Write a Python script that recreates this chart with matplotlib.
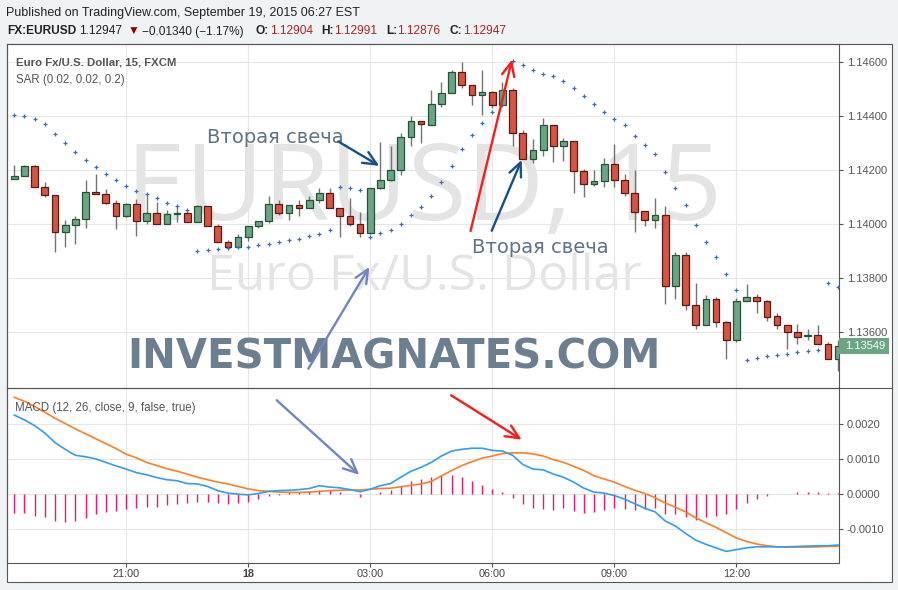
import matplotlib
matplotlib.use("Agg")
import matplotlib.pyplot as plt
from matplotlib.patches import Rectangle
from matplotlib.lines import Line2D

W, H = 898, 590

# EURUSD 15 min candles, 18:15 .. 14:30
opens = [1.14166, 1.14176, 1.14215, 1.14136, 1.14107, 1.13970, 1.13996, 1.14018, 1.14118, 1.14110,
         1.14077, 1.14029, 1.14073, 1.14011, 1.14040, 1.14000, 1.14036, 1.14040, 1.14008, 1.14066,
         1.13992, 1.13933, 1.13917, 1.13951, 1.13992, 1.14012, 1.14073, 1.14040, 1.14071, 1.14059,
         1.14087, 1.14116, 1.14059, 1.14030, 1.14001, 1.13966, 1.14133, 1.14163, 1.14200, 1.14321,
         1.14382, 1.14367, 1.14445, 1.14484, 1.14562, 1.14515, 1.14477, 1.14488, 1.14440, 1.14495,
         1.14336, 1.14240, 1.14274, 1.14366, 1.14289, 1.14307, 1.14197, 1.14147, 1.14159, 1.14223,
         1.14163, 1.14114, 1.14048, 1.14015, 1.14033, 1.13771, 1.13885, 1.13700, 1.13626, 1.13722,
         1.13637, 1.13571, 1.13716, 1.13729, 1.13716, 1.13660, 1.13626, 1.13600, 1.13586, 1.13592,
         1.13558, 1.13503]
highs = [1.14219, 1.14219, 1.14219, 1.14156, 1.14107, 1.14015, 1.14028, 1.14162, 1.14186, 1.14129,
         1.14088, 1.14077, 1.14092, 1.14108, 1.14083, 1.14051, 1.14070, 1.14050, 1.14071, 1.14066,
         1.14000, 1.13941, 1.13964, 1.13992, 1.14012, 1.14104, 1.14087, 1.14070, 1.14089, 1.14102,
         1.14133, 1.14133, 1.14059, 1.14096, 1.14044, 1.14133, 1.14303, 1.14287, 1.14336, 1.14398,
         1.14382, 1.14496, 1.14526, 1.14570, 1.14599, 1.14515, 1.14567, 1.14492, 1.14525, 1.14503,
         1.14348, 1.14315, 1.14392, 1.14366, 1.14317, 1.14307, 1.14203, 1.14200, 1.14244, 1.14297,
         1.14184, 1.14200, 1.14048, 1.14096, 1.14067, 1.13898, 1.13898, 1.13783, 1.13738, 1.13729,
         1.13643, 1.13726, 1.13779, 1.13741, 1.13719, 1.13670, 1.13626, 1.13630, 1.13614, 1.13626,
         1.13564, 1.13571]
lows = [1.14165, 1.14176, 1.14136, 1.14099, 1.13898, 1.13917, 1.13925, 1.13987, 1.14110, 1.14073,
        1.13980, 1.14025, 1.13954, 1.14000, 1.13999, 1.14000, 1.14009, 1.14008, 1.14008, 1.13992,
        1.13933, 1.13917, 1.13917, 1.13938, 1.13985, 1.14005, 1.14034, 1.14015, 1.14030, 1.14059,
        1.14077, 1.14059, 1.13951, 1.13991, 1.13951, 1.13964, 1.14130, 1.14160, 1.14182, 1.14289,
        1.14301, 1.14367, 1.14432, 1.14484, 1.14503, 1.14440, 1.14403, 1.14427, 1.14440, 1.14289,
        1.14240, 1.14227, 1.14250, 1.14230, 1.14231, 1.14116, 1.14098, 1.14139, 1.14136, 1.14136,
        1.14104, 1.13970, 1.13994, 1.13985, 1.13703, 1.13723, 1.13682, 1.13611, 1.13626, 1.13621,
        1.13500, 1.13563, 1.13716, 1.13670, 1.13641, 1.13611, 1.13540, 1.13558, 1.13571, 1.13558,
        1.13500, 1.13459]
closes = [1.14178, 1.14215, 1.14136, 1.14107, 1.13970, 1.13996, 1.14018, 1.14118, 1.14110, 1.14077,
          1.14029, 1.14073, 1.14011, 1.14040, 1.14000, 1.14038, 1.14041, 1.14008, 1.14066, 1.13992,
          1.13933, 1.13917, 1.13951, 1.13992, 1.14012, 1.14073, 1.14040, 1.14070, 1.14059, 1.14089,
          1.14116, 1.14059, 1.14028, 1.14000, 1.13966, 1.14133, 1.14163, 1.14200, 1.14321, 1.14382,
          1.14371, 1.14445, 1.14484, 1.14562, 1.14514, 1.14477, 1.14488, 1.14440, 1.14495, 1.14336,
          1.14240, 1.14274, 1.14366, 1.14287, 1.14307, 1.14197, 1.14147, 1.14159, 1.14223, 1.14163,
          1.14114, 1.14046, 1.14015, 1.14033, 1.13771, 1.13885, 1.13700, 1.13626, 1.13722, 1.13638,
          1.13571, 1.13716, 1.13729, 1.13716, 1.13657, 1.13627, 1.13600, 1.13583, 1.13592, 1.13558,
          1.13503, 1.13549]

# parabolic SAR (0.02, 0.02, 0.2)
sar = [1.14403, 1.14399, 1.14388, 1.14369, 1.14332, 1.14299, 1.14266, 1.14236, 1.14210, 1.14184,
       1.14162, 1.14140, 1.14121, 1.14110, 1.14095, 1.14077, 1.14066, 1.14053, 1.13899, 1.13903,
       1.13907, 1.13911, 1.13915, 1.13917, 1.13921, 1.13927, 1.13933, 1.13940, 1.13945, 1.13954,
       1.13963, 1.13977, 1.14136, 1.14132, 1.14126, 1.13951, 1.13967, 1.13977, 1.14000, 1.14032,
       1.14063, 1.14104, 1.14154, 1.14215, 1.14278, 1.14329, 1.14373, 1.14412, 1.14440, 1.14601,
       1.14589, 1.14570, 1.14554, 1.14546, 1.14527, 1.14503, 1.14474, 1.14443, 1.14414, 1.14388,
       1.14367, 1.14326, 1.14292, 1.14259, 1.14191, 1.14132, 1.14069, 1.13995, 1.13932, 1.13880,
       1.13814, 1.13758, 1.13499, 1.13506, 1.13511, 1.13517, 1.13521, 1.13526, 1.13532, 1.13533,
       1.13781, 1.13769]

# MACD (12, 26, close, 9)
macd = [0.00224, 0.00210, 0.00194, 0.00173, 0.00146, 0.00127, 0.00110, 0.00106, 0.00100, 0.00090,
        0.00080, 0.00071, 0.00061, 0.00055, 0.00047, 0.00041, 0.00038, 0.00030, 0.00029, 0.00022,
        0.00010, 0.00003, 0.00000, -0.00002, 0.00002, 0.00008, 0.00010, 0.00011, 0.00013, 0.00016,
        0.00024, 0.00020, 0.00018, 0.00013, 0.00007, 0.00014, 0.00024, 0.00030, 0.00048, 0.00065,
        0.00076, 0.00090, 0.00108, 0.00122, 0.00127, 0.00130, 0.00130, 0.00124, 0.00122, 0.00110,
        0.00084, 0.00071, 0.00069, 0.00057, 0.00048, 0.00034, 0.00017, 0.00006, 0.00003, -0.00004,
        -0.00014, -0.00027, -0.00040, -0.00050, -0.00076, -0.00090, -0.00111, -0.00130, -0.00142, -0.00152,
        -0.00162, -0.00157, -0.00152, -0.00149, -0.00149, -0.00149, -0.00149, -0.00148, -0.00147, -0.00146,
        -0.00146, -0.00144]
signal = [0.00274, 0.00263, 0.00248, 0.00232, 0.00215, 0.00200, 0.00185, 0.00171, 0.00157, 0.00143,
          0.00129, 0.00113, 0.00103, 0.00090, 0.00081, 0.00072, 0.00065, 0.00057, 0.00048, 0.00041,
          0.00034, 0.00029, 0.00022, 0.00015, 0.00010, 0.00008, 0.00006, 0.00005, 0.00005, 0.00006,
          0.00008, 0.00010, 0.00011, 0.00012, 0.00012, 0.00014, 0.00016, 0.00017, 0.00021, 0.00025,
          0.00029, 0.00036, 0.00052, 0.00067, 0.00081, 0.00092, 0.00102, 0.00108, 0.00115, 0.00117,
          0.00117, 0.00114, 0.00108, 0.00098, 0.00090, 0.00079, 0.00067, 0.00052, 0.00043, 0.00034,
          0.00022, 0.00011, 0.00002, -0.00010, -0.00025, -0.00037, -0.00050, -0.00067, -0.00081, -0.00094,
          -0.00109, -0.00124, -0.00134, -0.00141, -0.00146, -0.00149, -0.00150, -0.00150, -0.00150, -0.00149,
          -0.00148, -0.00147]
hist = [-0.00054, -0.00054, -0.00061, -0.00064, -0.00075, -0.00078, -0.00075, -0.00067, -0.00056, -0.00050,
        -0.00047, -0.00041, -0.00038, -0.00035, -0.00035, -0.00031, -0.00029, -0.00026, -0.00021, -0.00021,
        -0.00024, -0.00027, -0.00026, -0.00021, -0.00015, -0.00006, -0.00001, 0.00005, 0.00005, 0.00010,
        0.00011, 0.00011, 0.00006, 0.00001, -0.00009, 0.00000, 0.00005, 0.00011, 0.00022, 0.00036,
        0.00044, 0.00048, 0.00053, 0.00055, 0.00050, 0.00038, 0.00027, 0.00015, 0.00007, -0.00010,
        -0.00029, -0.00040, -0.00042, -0.00044, -0.00040, -0.00047, -0.00052, -0.00050, -0.00044, -0.00040,
        -0.00041, -0.00044, -0.00042, -0.00040, -0.00055, -0.00056, -0.00064, -0.00072, -0.00064, -0.00061,
        -0.00057, -0.00041, -0.00024, -0.00013, -0.00004, 0.00001, 0.00001, 0.00005, 0.00005, 0.00005,
        0.00002, 0.00002]

time_ticks = [11, 23, 35, 47, 59, 71]
time_labels = ["21:00", "18", "03:00", "06:00", "09:00", "12:00"]
price_ticks = [1.136, 1.138, 1.140, 1.142, 1.144, 1.146]
macd_ticks = [-0.001, 0.0, 0.001, 0.002]
last_price = 1.13549

UP, UP_EDGE = "#6ba583", "#225437"
DN, DN_EDGE = "#d75442", "#5b1a13"
GRID = "#e6e6e6"
FRAME = "#555555"
TXT = "#555555"

plt.rcParams["font.family"] = ["Liberation Sans", "DejaVu Sans"]


def fx(x):
    return x / W


def fy(y):
    return 1 - y / H


fig = plt.figure(figsize=(W / 100, H / 100), dpi=100)
fig.patch.set_facecolor("#f0f3f6")
fig.patches.append(Rectangle((fx(7), fy(581.7)), fx(891.7) - fx(7), fy(43.5) - fy(581.7),
                             transform=fig.transFigure, fc="white", ec=FRAME, lw=0.8, zorder=-5))

ax1 = fig.add_axes([fx(7), fy(387.5), fx(839.3) - fx(7), fy(43.5) - fy(387.5)])
ax2 = fig.add_axes([fx(7), fy(562.7), fx(839.3) - fx(7), fy(387.5) - fy(562.7)])
for ax in (ax1, ax2):
    ax.set_facecolor("none")
    for s in ax.spines.values():
        s.set_color(FRAME)
        s.set_linewidth(0.8)
    ax.set_xlim(-0.72, 81.12)
    ax.set_xticks(time_ticks)
    ax.grid(True, color=GRID, lw=0.8)
    ax.set_axisbelow(True)
    ax.yaxis.tick_right()
    ax.tick_params(axis="y", direction="out", length=3, width=0.8, color=FRAME,
                   labelsize=8, labelcolor=TXT, pad=2.5)
fig.add_artist(Line2D([fx(839.3), fx(891.7)], [fy(387.5), fy(387.5)], color=FRAME, lw=0.8))

# price pane
ax1.set_ylim(1.133963, 1.146667)
ax1.set_yticks(price_ticks)
ax1.set_yticklabels(["%.5f" % v for v in price_ticks])
ax1.tick_params(axis="x", length=0, labelbottom=False)

for i in range(len(opens)):
    o, h, l, c = opens[i], highs[i], lows[i], closes[i]
    up = c >= o
    ax1.vlines(i, l, h, color="#737375", lw=1.0, zorder=2)
    ax1.add_patch(Rectangle((i - 0.33, min(o, c)), 0.66, abs(c - o),
                            fc=UP if up else DN, ec=UP_EDGE if up else DN_EDGE, lw=0.9, zorder=3))
ax1.plot(range(len(sar)), sar, ls="none", marker="+", ms=3.0, mew=0.9, color="#3d6db2", zorder=4)

ax1.text(fx(424), fy(220), "EURUSD, 15", transform=fig.transFigure, ha="center", va="baseline",
         family="Open Sans", fontsize=77, color="#e4e4e4", zorder=0.5)
ax1.text(fx(424), fy(290), "Euro Fx/U.S. Dollar", transform=fig.transFigure, ha="center", va="baseline",
         family="Open Sans", fontsize=36, color="#e4e4e4", zorder=0.5)
ax1.text(fx(127), fy(368.5), "INVESTMAGNATES.COM", transform=fig.transFigure, ha="left", va="baseline",
         family="DejaVu Sans", fontweight="bold", fontsize=29, color="#6b7f91", zorder=6)

ax1.text(fx(16), fy(65.5), "Euro Fx/U.S. Dollar, 15, FXCM", transform=fig.transFigure,
         fontsize=8.2, fontweight="bold", color=TXT, va="baseline")
ax1.text(fx(16), fy(83), "SAR (0.02, 0.02, 0.2)", transform=fig.transFigure,
         fontsize=8.3, color=TXT, va="baseline")

ax1.text(18.97, 1.142989, "Вторая свеча", family="DejaVu Sans", fontsize=14, color="#5f7386", zorder=6)
ax1.text(44.97, 1.138915, "Вторая свеча", family="DejaVu Sans", fontsize=14, color="#5f7386", zorder=6)


def arrow(ax, x0, y0, x1, y1, color):
    ax.annotate("", xy=(x1, y1), xytext=(x0, y0), annotation_clip=False, zorder=7,
                arrowprops=dict(arrowstyle="->,head_length=0.7,head_width=0.32", color=color,
                                lw=1.7, mutation_scale=14, shrinkA=0, shrinkB=0))


arrow(ax1, 31.86, 1.143048, 35.89, 1.142148, "#14508f")
arrow(ax1, 46.94, 1.139752, 49.89, 1.142370, "#14508f")
arrow(ax1, 44.86, 1.139741, 48.94, 1.146074, "#ff1a1a")
arrow(ax1, 28.91, 1.134656, 34.91, 1.138419, "#7283c6")

# MACD pane
ax2.set_ylim(-0.00194, 0.00302)
ax2.set_yticks(macd_ticks)
ax2.set_yticklabels(["%.4f" % v for v in macd_ticks])
x = list(range(len(macd)))
ax2.vlines(x, 0, hist, color="#f2156d", lw=1.0, zorder=2)
ax2.plot(x, signal, color="#ff7f27", lw=1.2, zorder=3)
ax2.plot(x, macd, color="#2f9ff0", lw=1.2, zorder=4)
ax2.set_xticklabels(time_labels)
ax2.tick_params(axis="x", direction="out", length=3, width=0.8, color=FRAME,
                labelsize=7.8, labelcolor="#444444", pad=1.5)
ax2.get_xticklabels()[1].set_fontweight("bold")
ax2.text(fx(15), fy(411), "MACD (12, 26, close, 9, false, true)", transform=fig.transFigure,
         fontsize=8.3, color=TXT, va="baseline")
arrow(ax2, 25.80, 0.002659, 33.92, 0.000548, "#7283c6")
arrow(ax2, 42.94, 0.002801, 49.89, 0.001543, "#ff1a1a")

# last price label on the scale
y_last = ax1.transData.transform((0, last_price))[1]
fig.patches.append(Rectangle((fx(839.3), (y_last - 7.8) / H), fx(889) - fx(839.3), 15.6 / H,
                             transform=fig.transFigure, fc=UP, ec="none", zorder=5))
fig.text(fx(845), y_last / H, "%.5f" % last_price, fontsize=8, color="white", va="center", zorder=6)

# header
fig.text(fx(6), fy(16), "Published on TradingView.com, September 19, 2015 06:27 EST",
         fontsize=9, color="#222222", va="baseline")
hdr = [(7, "FX:EURUSD", "bold", "#222222"), (79, "1.12947", "normal", "#222222"),
       (128, "\u25bc", "normal", "#8b0000"), (142, "\u22120.01340 (\u22121.17%)", "normal", "#222222"),
       (255, "O:", "bold", "#222222"), (270, "1.12904", "normal", "#b22222"),
       (321, "H:", "bold", "#222222"), (334, "1.12991", "normal", "#b22222"),
       (386, "L:", "bold", "#222222"), (397, "1.12876", "normal", "#b22222"),
       (449, "C:", "bold", "#222222"), (463, "1.12947", "normal", "#b22222")]
for xp, s, wgt, col in hdr:
    fig.text(fx(xp), fy(34.5), s, fontsize=8.6, fontweight=wgt, color=col, va="baseline",
             family=["Liberation Sans", "DejaVu Sans"])

fig.savefig("out.png", dpi=100, facecolor=fig.get_facecolor())
